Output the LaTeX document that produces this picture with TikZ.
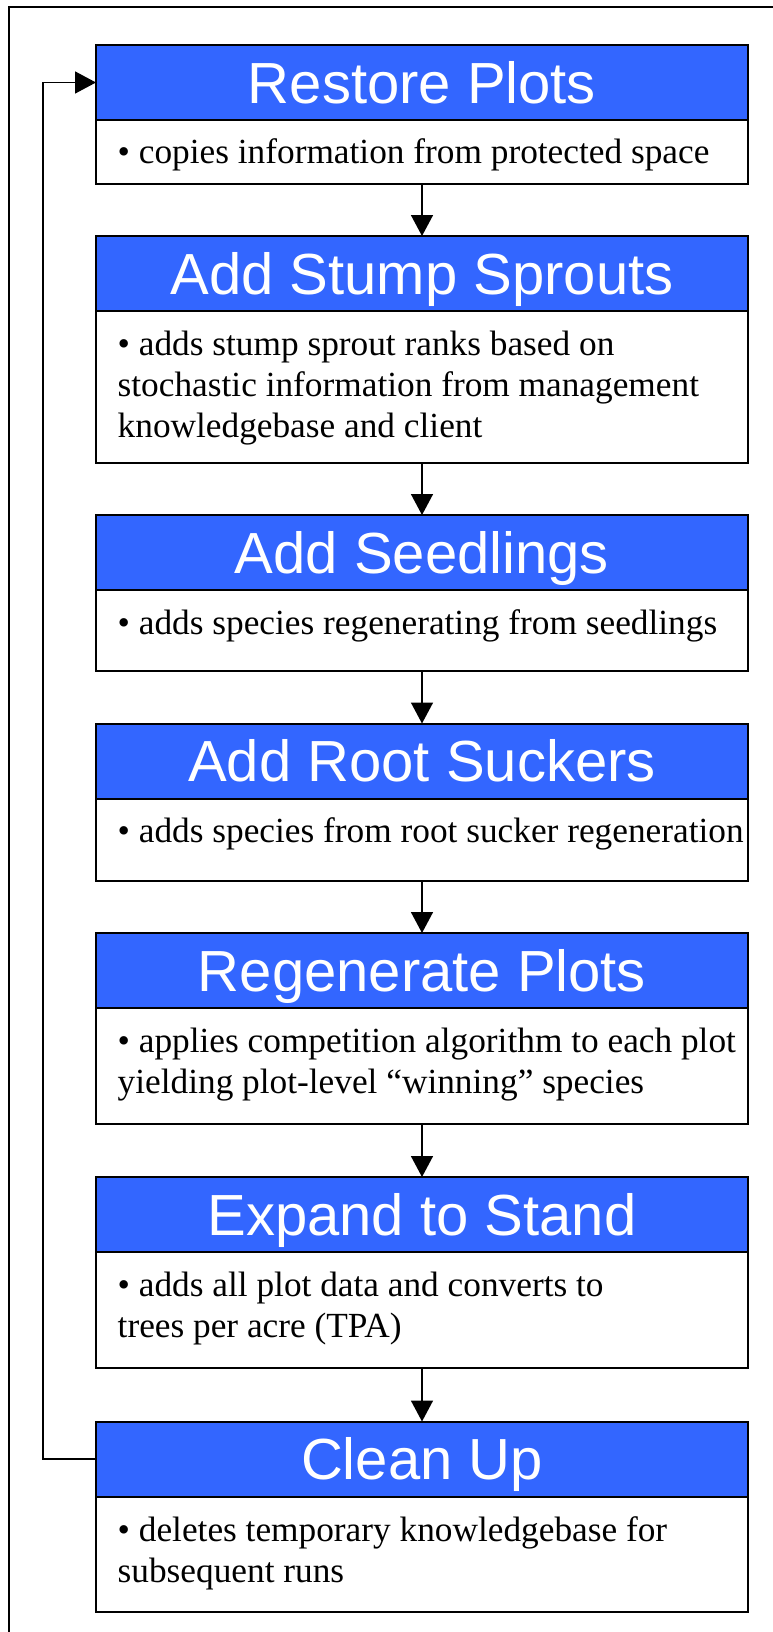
\documentclass[tikz,border=0pt]{standalone}
\usepackage{fontspec}
\setmainfont{Liberation Serif}
\newfontfamily\headfont{Liberation Sans}
\usetikzlibrary{arrows.meta,positioning}
\definecolor{stepblue}{RGB}{51,102,255}
\newcommand{\tstrut}{\rule{0pt}{30pt}}

\tikzset{
  stephead/.style={draw=black,line width=2pt,fill=stepblue,text=white,
    minimum width=652pt,minimum height=75pt,inner sep=0pt,outer sep=0pt,
    font=\headfont\fontsize{58}{60}\selectfont,text height=41.5pt,text depth=0pt},
  stepbody/.style={draw=black,line width=2pt,fill=white,
    minimum width=652pt,inner sep=0pt,outer sep=0pt},
  steptext/.style={align=left,inner sep=0pt,anchor=north west,
    font=\fontsize{35.3}{41}\selectfont},
  flow/.style={-{Triangle[length=21pt,width=22pt]},line width=1.6pt}
}

\begin{document}
\begin{tikzpicture}[x=1pt,y=-1pt]
    \useasboundingbox (0,0) rectangle (772,1632);
    % outer frame
    \draw[line width=2pt] (8.5,1640) -- (8.5,7) -- (780,7);

    % Restore Plots
    \node[stephead] (restore) at (422,82.5) {Restore Plots};
    \node[stepbody,minimum height=64pt,below=0pt of restore] (restore-b) {};
    \node[steptext,below right=13.5pt and 21.5pt of restore-b.north west] (restore-t)
        {\tstrut\textbullet{} copies information from protected space};

    % Add Stump Sprouts
    \node[stephead] (stump) at (422,273.5) {Add Stump Sprouts};
    \node[stepbody,minimum height=152pt,below=0pt of stump] (stump-b) {};
    \node[steptext,below right=14pt and 21.5pt of stump-b.north west] (stump-t)
        {\tstrut\textbullet{} adds stump sprout ranks based on\\stochastic information from management\\knowledgebase and client};

    % Add Seedlings
    \node[stephead] (seed) at (422,552.5) {Add Seedlings};
    \node[stepbody,minimum height=81pt,below=0pt of seed] (seed-b) {};
    \node[steptext,below right=14pt and 21.5pt of seed-b.north west] (seed-t)
        {\tstrut\textbullet{} adds species regenerating from seedlings};

    % Add Root Suckers
    \node[stephead] (root) at (422,761) {Add Root Suckers};
    \node[stepbody,minimum height=82pt,below=0pt of root] (root-b) {};
    \node[steptext,below right=14pt and 21.5pt of root-b.north west] (root-t)
        {\tstrut\textbullet{} adds species from root sucker regeneration};

    % Regenerate Plots
    \node[stephead] (regen) at (422,970.5) {Regenerate Plots};
    \node[stepbody,minimum height=116pt,below=0pt of regen] (regen-b) {};
    \node[steptext,below right=14pt and 21.5pt of regen-b.north west] (regen-t)
        {\tstrut\textbullet{} applies competition algorithm to each plot\\yielding plot-level ``winning'' species};

    % Expand to Stand
    \node[stephead] (expand) at (422,1214.5) {Expand to Stand};
    \node[stepbody,minimum height=116pt,below=0pt of expand] (expand-b) {};
    \node[steptext,below right=14.5pt and 21.5pt of expand-b.north west] (expand-t)
        {\tstrut\textbullet{} adds all plot data and converts to\\trees per acre (TPA)};

    % Clean Up
    \node[stephead] (clean) at (422,1459) {Clean Up};
    \node[stepbody,minimum height=115pt,below=0pt of clean] (clean-b) {};
    \node[steptext,below right=14.5pt and 21.5pt of clean-b.north west] (clean-t)
        {\tstrut\textbullet{} deletes temporary knowledgebase for\\subsequent runs};

    % arrows
    \draw[flow] (restore-b.south) -- (stump.north);
    \draw[flow] (stump-b.south) -- (seed.north);
    \draw[flow] (seed-b.south) -- (root.north);
    \draw[flow] (root-b.south) -- (regen.north);
    \draw[flow] (regen-b.south) -- (expand.north);
    \draw[flow] (expand-b.south) -- (clean.north);
    \draw[flow] (clean.west) -- ++(-53,0) |- (restore.west);
\end{tikzpicture}
\end{document}
